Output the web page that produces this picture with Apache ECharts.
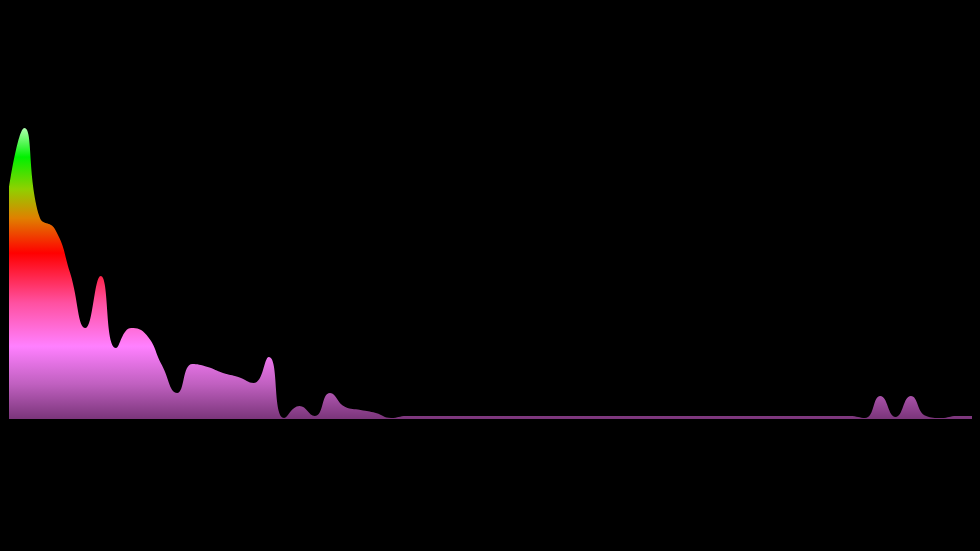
<!DOCTYPE html>
<html>
<head>
<meta charset="utf-8">
<script src="https://cdn.jsdelivr.net/npm/echarts@6/dist/echarts.min.js"></script>
<style>
html,body{margin:0;padding:0;background:#000;}
#chart{width:980px;height:551px;}
</style>
</head>
<body>
<div id="chart"></div>
<script>
// Spectrum bins (0..63) and their magnitudes
const bins = Array.from({length: 64}, (_, i) => String(i));
const magnitudes = [
  231, 291, 202, 190, 146, 91, 143, 71, 91, 84,
  54, 26, 55, 52, 46, 42, 36, 62, 1, 13,
  3, 26, 12, 9, 6, 1, 3, 3, 3, 3,
  3, 3, 3, 3, 3, 3, 3, 3, 3, 3,
  3, 3, 3, 3, 3, 3, 3, 3, 3, 3,
  3, 3, 3, 3, 3, 3, 1, 23, 2, 23,
  3, 1, 3, 3
];

const chart = echarts.init(document.getElementById('chart'));
chart.setOption({
  backgroundColor: '#000',
  animation: false,
  grid: {left: 9, right: 8, top: 119, bottom: 132},
  xAxis: {
    type: 'category', data: bins, boundaryGap: false,
    show: false
  },
  yAxis: {type: 'value', min: 0, max: 300, show: false},
  series: [{
    type: 'line',
    data: magnitudes,
    smooth: true,
    showSymbol: false,
    lineStyle: {width: 0, opacity: 0},
    areaStyle: {
      opacity: 1,
      color: new echarts.graphic.LinearGradient(0, 0, 0, 1, [
        {offset: 0, color: '#b0ffb0'},
        {offset: 0.1, color: '#00f000'},
        {offset: 0.21, color: '#90d000'},
        {offset: 0.31, color: '#e08000'},
        {offset: 0.43, color: '#ff0000'},
        {offset: 0.6, color: '#ff50a0'},
        {offset: 0.75, color: '#ff80ff'},
        {offset: 0.88, color: '#c060c0'},
        {offset: 1, color: '#7a357a'}
      ])
    }
  }]
});
</script>
</body>
</html>
